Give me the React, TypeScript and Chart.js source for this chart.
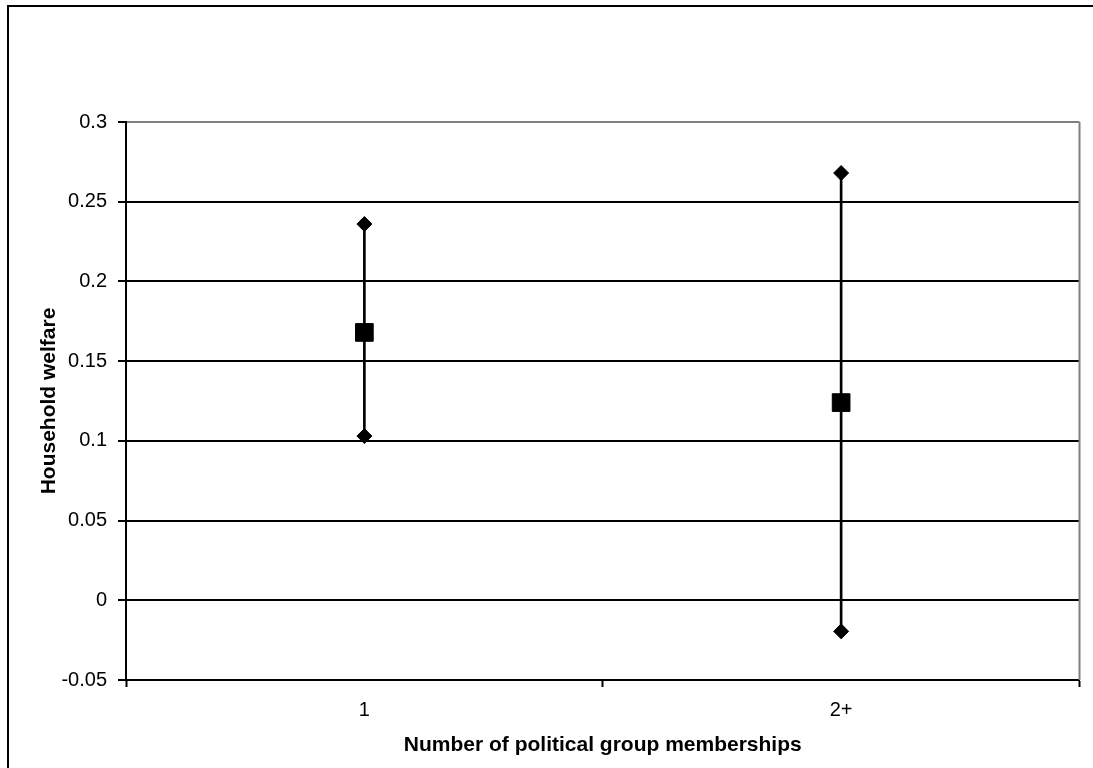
import React, { useEffect, useRef } from "react";
import { Chart, registerables } from "chart.js";

Chart.register(...registerables);

const categories = ["1", "2+"];
const means = [0.168, 0.124];
const highs = [0.236, 0.268];
const lows = [0.103, -0.0195];
const yTicks = { min: -0.05, max: 0.3, step: 0.05 };
const xTitle = "Number of political group memberships";
const yTitle = "Household welfare";

const FONT = "'Liberation Sans', Arial, sans-serif";

const framePlugin = {
  id: "frame",
  beforeDraw(chart: any) {
    const { ctx, width, height } = chart;
    ctx.save();
    ctx.fillStyle = "#ffffff";
    ctx.fillRect(0, 0, width, height);
    ctx.fillStyle = "#000000";
    ctx.fillRect(7, 5, width - 7, 2);
    ctx.fillRect(7, 5, 2, height - 5);
    ctx.restore();
  },
  afterDraw(chart: any) {
    const { ctx, chartArea } = chart;
    ctx.save();
    ctx.strokeStyle = "#808080";
    ctx.lineWidth = 2;
    ctx.beginPath();
    ctx.moveTo(chartArea.right, chartArea.top);
    ctx.lineTo(chartArea.right, chartArea.bottom);
    ctx.stroke();
    ctx.restore();
  },
};

export default function App() {
  const ref = useRef<HTMLCanvasElement | null>(null);

  useEffect(() => {
    if (!ref.current) return;
    const errorBars = categories.map((_, i) => [lows[i], highs[i]]);
    const chart = new Chart(ref.current, {
      type: "bar",
      data: {
        labels: categories,
        datasets: [
          {
            type: "line",
            label: "High",
            data: highs,
            showLine: false,
            pointStyle: "rectRot",
            pointRadius: 7.5,
            pointBackgroundColor: "#000",
            pointBorderColor: "#000",
            pointBorderWidth: 1,
            order: 0,
          } as any,
          {
            type: "line",
            label: "Low",
            data: lows,
            showLine: false,
            pointStyle: "rectRot",
            pointRadius: 7.5,
            pointBackgroundColor: "#000",
            pointBorderColor: "#000",
            pointBorderWidth: 1,
            order: 0,
          } as any,
          {
            type: "line",
            label: "Mean",
            data: means,
            showLine: false,
            pointStyle: "rect",
            pointRadius: 12.5,
            pointBackgroundColor: "#000",
            pointBorderColor: "#000",
            pointBorderWidth: 1,
            order: 0,
          } as any,
          {
            type: "bar",
            label: "Range",
            data: errorBars as any,
            backgroundColor: "#000",
            borderWidth: 0,
            barThickness: 2,
            order: 10,
          },
        ],
      },
      options: {
        animation: false,
        responsive: false,
        maintainAspectRatio: false,
        layout: { padding: { top: 122, right: 11, left: 0, bottom: 0 } },
        plugins: {
          legend: { display: false },
          tooltip: { enabled: false },
        },
        scales: {
          x: {
            offset: true,
            afterFit: (scale: any) => {
              scale.height = 88;
            },
            grid: {
              offset: true,
              drawOnChartArea: false,
              drawTicks: true,
              tickLength: 7,
              tickColor: "#000",
              tickWidth: 2,
            },
            border: { color: "#000", width: 2 },
            ticks: {
              color: "#000",
              padding: 11,
              font: { family: FONT, size: 20 },
            },
            title: {
              display: true,
              text: xTitle,
              color: "#000",
              font: { family: FONT, size: 21, weight: "bold" },
              padding: { top: 0, bottom: 10 },
            },
          },
          y: {
            min: yTicks.min,
            max: yTicks.max,
            afterFit: (scale: any) => {
              scale.width = 126;
            },
            grid: {
              color: (c: any) =>
                c.tick && Math.abs(c.tick.value - yTicks.max) < 1e-9 ? "#808080" : "#000",
              lineWidth: 2,
              tickLength: 8,
              tickColor: "#000",
              tickWidth: 2,
            },
            border: { color: "#000", width: 2 },
            ticks: {
              stepSize: yTicks.step,
              color: "#000",
              padding: 11,
              font: { family: FONT, size: 20 },
              callback: (v: any) => String(Number(Number(v).toFixed(2))),
            },
            title: {
              display: true,
              text: yTitle,
              color: "#000",
              font: { family: FONT, size: 21, weight: "bold" },
              padding: { top: 37, bottom: 0 },
            },
          },
        },
      },
      plugins: [framePlugin],
    });
    return () => chart.destroy();
  }, []);

  return (
    <div style={{ position: "fixed", left: 0, top: 0, width: 1093, height: 768, overflow: "hidden", background: "#fff" }}>
      <canvas ref={ref} width={1093} height={768} style={{ display: "block", width: 1093, height: 768 }} />
    </div>
  );
}
